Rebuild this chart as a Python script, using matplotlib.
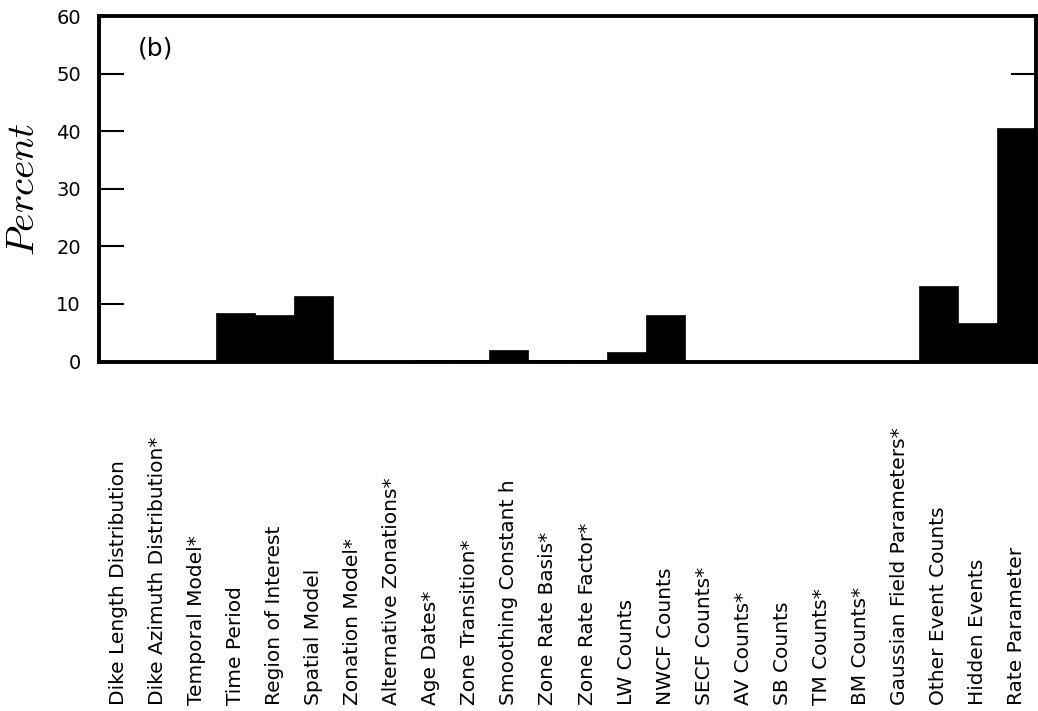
import matplotlib.pyplot as plt
import matplotlib.transforms as mtransforms

plt.rcParams['mathtext.fontset'] = 'cm'

# factor labels and percent contribution
categories = [
    "Dike Length Distribution", "Dike Azimuth Distribution*", "Temporal Model*",
    "Time Period", "Region of Interest", "Spatial Model", "Zonation Model*",
    "Alternative Zonations*", "Age Dates*", "Zone Transition*",
    "Smoothing Constant h", "Zone Rate Basis*", "Zone Rate Factor*",
    "LW Counts", "NWCF Counts", "SECF Counts*", "AV Counts*", "SB Counts",
    "TM Counts*", "BM Counts*", "Gaussian Field Parameters*",
    "Other Event Counts", "Hidden Events", "Rate Parameter",
]
percent = [0, 0, 0, 8.5, 8.1, 11.3, 0, 0, 0.2, 0.2, 2.0, 0.3, 0.3,
           1.6, 8.1, 0, 0, 0, 0, 0, 0, 13.1, 6.6, 40.5]
yticks = [0, 10, 20, 30, 40, 50, 60]

fig = plt.figure(figsize=(10.38, 7.11), dpi=100)
ax = fig.add_axes([99 / 1038, 1 - 361.5 / 711, 937 / 1038, 345.5 / 711])

x = list(range(len(categories)))
ax.bar(x, percent, width=1.0, color='black', edgecolor='black', linewidth=0.5)

ax.set_xlim(-0.5, len(categories) - 0.5)
ax.set_ylim(0, 60)
ax.set_yticks(yticks)
ax.set_xticks([])
ax.tick_params(axis='y', direction='in', length=18, width=1.5,
               right=True, labelsize=14, pad=13)
for s in ax.spines.values():
    s.set_linewidth(2.8)

ax.set_ylabel(r'$Percent$', fontsize=28, labelpad=10)
ax.text(0.041, 0.907, "(b)", transform=ax.transAxes, fontsize=18,
        ha='left', va='center')

# rotated labels, bottom-aligned near the bottom of the figure
trans = mtransforms.blended_transform_factory(ax.transData, fig.transFigure)
for i, name in enumerate(categories):
    ax.text(i, 6 / 711, name, transform=trans, rotation=90,
            ha='center', va='bottom', fontsize=14.5)

fig.savefig("out.png", dpi=100)
